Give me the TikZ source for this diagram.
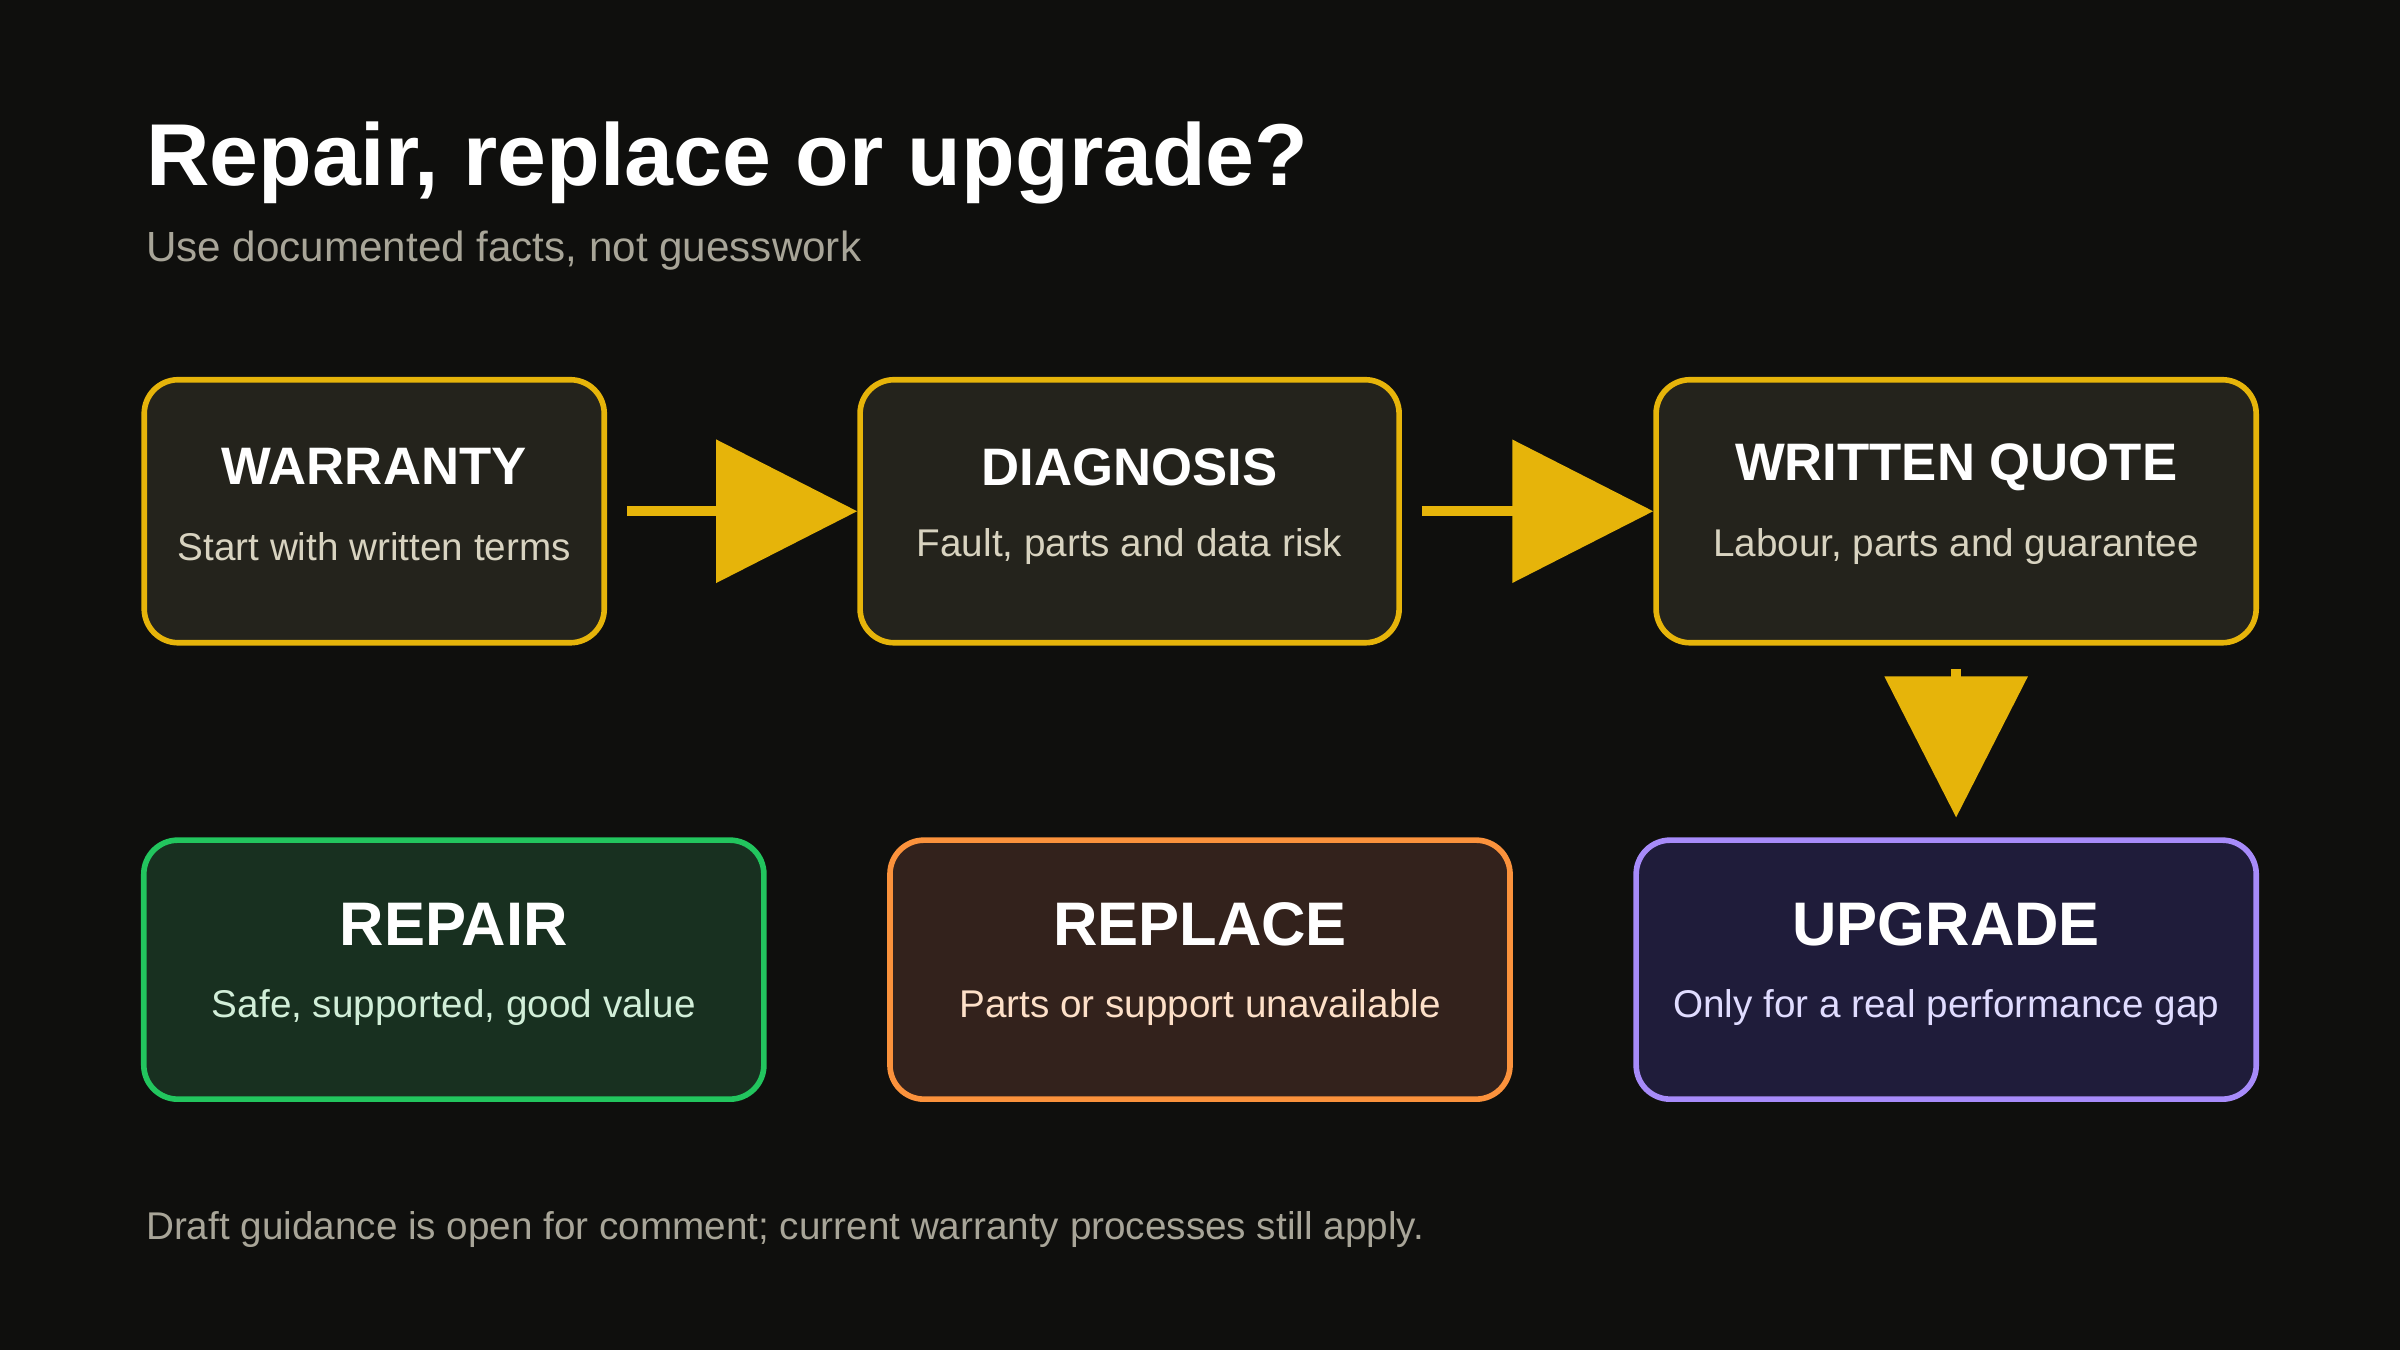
\documentclass[tikz,border=0pt]{standalone}
\usepackage{fontspec}
\setmainfont{Liberation Sans}
\usetikzlibrary{arrows.meta}
\definecolor{bgc}{HTML}{0F0F0D}
\definecolor{gold}{HTML}{E6B40A}
\definecolor{stepfill}{HTML}{24231C}
\definecolor{stepsub}{HTML}{D8D3C0}
\definecolor{subgray}{HTML}{A8A598}
\definecolor{grn}{HTML}{22C55E}
\definecolor{grnfill}{HTML}{183020}
\definecolor{grnsub}{HTML}{D1EED8}
\definecolor{org}{HTML}{FB923C}
\definecolor{orgfill}{HTML}{33221C}
\definecolor{orgsub}{HTML}{FDE0C8}
\definecolor{prp}{HTML}{A78BFA}
\definecolor{prpfill}{HTML}{1F1C3A}
\definecolor{prpsub}{HTML}{E0DCFF}
\tikzset{
	box/.style={rounded corners=0.34cm, line width=1.6pt, inner sep=0pt},
	stepbox/.style={box, draw=gold, fill=stepfill},
	flow/.style={draw=gold, line width=2.8pt, -{Triangle[length=1.41cm,width=1.41cm]}},
	btitle/.style={font=\bfseries\fontsize{15}{18}\selectfont, text=white},
}
\begin{document}
\begin{tikzpicture}[x=0.015306cm,y=-0.015306cm]
	%BACKGROUND
	\fill[bgc] (0,0) rectangle (1568,882);
	\useasboundingbox (0,0) rectangle (1568,882);
	
	%HEADER
	\node[anchor=base west,inner sep=0,text=white,font=\bfseries\fontsize{25}{30}\selectfont] (title) at (95,121) {Repair, replace or upgrade?};
	\node[anchor=base west,inner sep=0,text=subgray,font=\fontsize{12}{14}\selectfont] (subtitle) at (95,171) {Use documented facts, not guesswork};
	
	%STEPS
	\node[stepbox, minimum width=4.6cm, minimum height=2.63cm] (warranty) at (244.5,334) {};
	\node[stepbox, minimum width=5.39cm, minimum height=2.63cm] (diagnosis) at (738,334) {};
	\node[stepbox, minimum width=6.0cm, minimum height=2.63cm] (quote) at (1278,334) {};
	\node[btitle] at (244.5,305) {WARRANTY};
	\node[text=stepsub,font=\fontsize{11}{13}\selectfont] at (244.5,357) {Start with written terms};
	\node[btitle] at (738,305) {DIAGNOSIS};
	\node[text=stepsub,font=\fontsize{11}{13}\selectfont] at (738,357) {Fault, parts and data risk};
	\node[btitle] at (1278,305) {WRITTEN QUOTE};
	\node[text=stepsub,font=\fontsize{11}{13}\selectfont] at (1278,357) {Labour, parts and guarantee};
	
	%OUTCOMES
	\node[box, draw=grn, fill=grnfill, minimum width=6.2cm, minimum height=2.59cm] (repair) at (296.5,633.5) {};
	\node[box, draw=org, fill=orgfill, minimum width=6.2cm, minimum height=2.59cm] (replace) at (784,633.5) {};
	\node[box, draw=prp, fill=prpfill, minimum width=6.2cm, minimum height=2.59cm] (upgrade) at (1271.5,633.5) {};
	\node[btitle,font=\bfseries\fontsize{17.5}{20}\selectfont] at (296.5,604) {REPAIR};
	\node[text=grnsub,font=\fontsize{11}{13}\selectfont] at (296.5,658) {Safe, supported, good value};
	\node[btitle,font=\bfseries\fontsize{17.5}{20}\selectfont] at (784,604) {REPLACE};
	\node[text=orgsub,font=\fontsize{11}{13}\selectfont] at (784,658) {Parts or support unavailable};
	\node[btitle,font=\bfseries\fontsize{17.5}{20}\selectfont] at (1271.5,604) {UPGRADE};
	\node[text=prpsub,font=\fontsize{11}{13}\selectfont] at (1271.5,658) {Only for a real performance gap};
	
	%ARROWS
	\draw[flow, shorten <=5.7pt] (warranty.east) -- (diagnosis.west);
	\draw[flow, shorten <=5.7pt] (diagnosis.east) -- (quote.west);
	\coordinate (qdown) at (1278,420);
	\coordinate (udown) at (1278,549);
	\draw[flow, shorten <=7.4pt, shorten >=6.5pt] (qdown) -- (udown);
	
	%FOOTER
	\node[anchor=base west,inner sep=0,text=subgray,font=\fontsize{11}{13}\selectfont] (footer) at (95,810) {Draft guidance is open for comment; current warranty processes still apply.};
\end{tikzpicture}
\end{document}
